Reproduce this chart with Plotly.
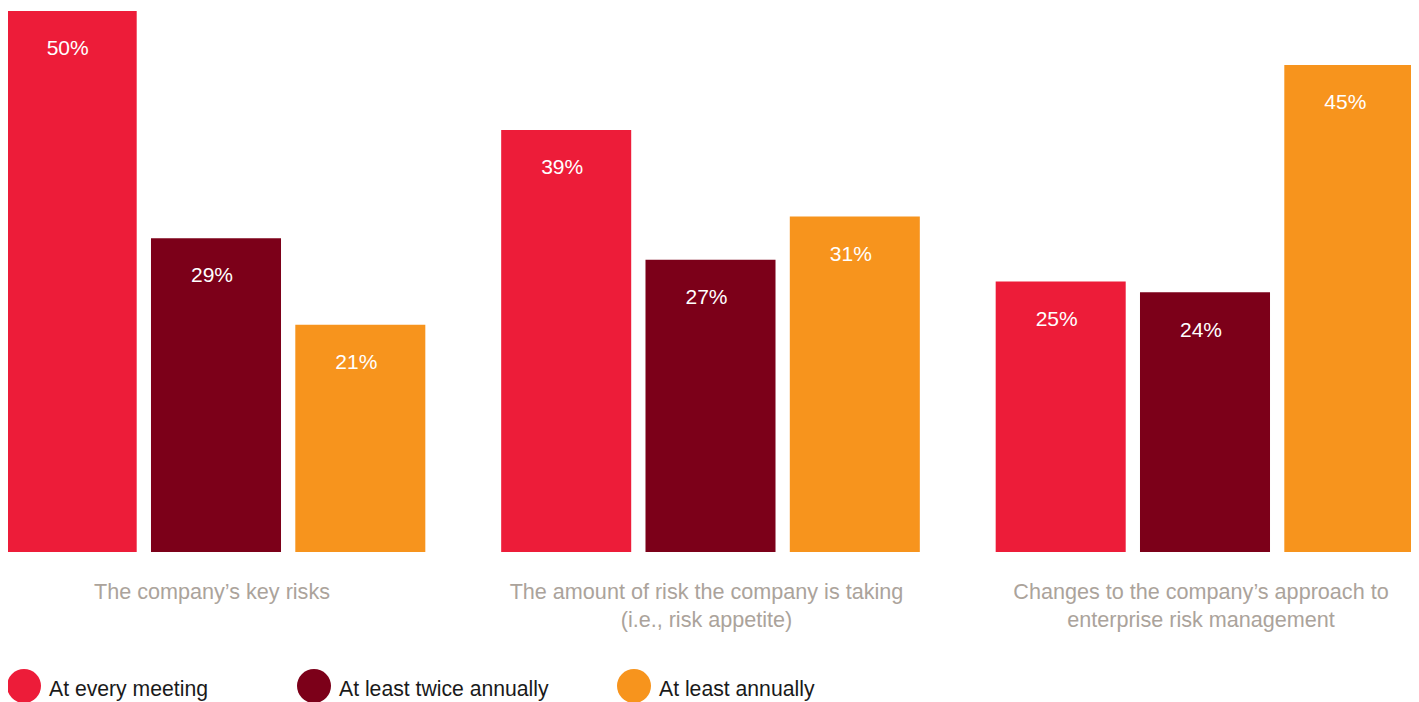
import plotly.graph_objects as go

categories = [
    "The company’s key risks",
    "The amount of risk the company is taking<br>(i.e., risk appetite)",
    "Changes to the company’s approach to<br>enterprise risk management",
]
series_names = ["At every meeting", "At least twice annually", "At least annually"]
every_meeting = [50, 39, 25]
twice_annually = [29, 27, 24]
annually = [21, 31, 45]

colors = ["#ED1C39", "#7C0019", "#F7941D"]
series_values = [every_meeting, twice_annually, annually]

OFF = 8  # page body margin
W, H = 1419 - OFF, 702 - OFF
PLOT_BOTTOM = 552 - OFF  # px from figure top
FONT = "Liberation Sans, Arial, Helvetica, sans-serif"

bargap = 0.1245
bargroupgap = 0.099
slot = (1 - bargap) / 3
px_per_unit = 541 / 50
y_max = PLOT_BOTTOM / px_per_unit
pitch = 494.5
nudge = -4 / pitch  # small leftward shift of texts as in the original

fig = go.Figure()
xs = list(range(len(categories)))
for k, (name, vals, col) in enumerate(zip(series_names, series_values, colors)):
    fig.add_trace(go.Bar(
        x=xs, y=vals, name=name, marker=dict(color=col, line=dict(width=0)),
        showlegend=False, hoverinfo="skip",
    ))

# value labels inside bars, near the top
for k, vals in enumerate(series_values):
    offset = (k - 1) * slot + nudge
    fig.add_trace(go.Scatter(
        x=[x + offset for x in xs],
        y=[v - 39 / px_per_unit for v in vals],
        text=[f"{v}%" for v in vals],
        mode="text",
        textposition="middle center",
        textfont=dict(color="white", size=21, family=FONT),
        showlegend=False, hoverinfo="skip",
    ))

x0 = -(216 - OFF) / pitch
x1 = (1419 - 216) / pitch
fig.update_layout(
    width=W, height=H,
    margin=dict(l=0, r=0, t=0, b=H - PLOT_BOTTOM, pad=0),
    barmode="group", bargap=bargap, bargroupgap=bargroupgap,
    plot_bgcolor="white", paper_bgcolor="white",
    showlegend=False,
    xaxis=dict(
        range=[x0, x1], tickvals=[x + nudge for x in xs], ticktext=categories,
        showgrid=False, zeroline=False, showline=False, ticks="",
        tickfont=dict(color="#ABA39B", size=21.6, family=FONT),
        ticklabelstandoff=24, fixedrange=True,
    ),
    yaxis=dict(range=[0, y_max], visible=False, fixedrange=True),
)

# custom legend: large circles + labels (page pixel positions)
legend_x = [24, 314, 634]
legend_text_x = [47, 337, 657]
cy = 686
r = 17
for name, col, lx, tx in zip(series_names, colors, legend_x, legend_text_x):
    fig.add_shape(
        type="circle", xref="paper", yref="paper",
        xsizemode="pixel", ysizemode="pixel",
        xanchor=(lx - OFF) / W, yanchor=(PLOT_BOTTOM - (cy - OFF)) / PLOT_BOTTOM,
        x0=-r, x1=r, y0=-r, y1=r,
        fillcolor=col, line=dict(width=0),
    )
    fig.add_annotation(
        x=(tx - OFF) / W, y=(PLOT_BOTTOM - (689 - OFF)) / PLOT_BOTTOM,
        xref="paper", yref="paper",
        text=name, showarrow=False, xanchor="left", yanchor="middle",
        font=dict(color="#1A1A1A", size=21.2, family=FONT),
    )

fig.write_html("out.html")
